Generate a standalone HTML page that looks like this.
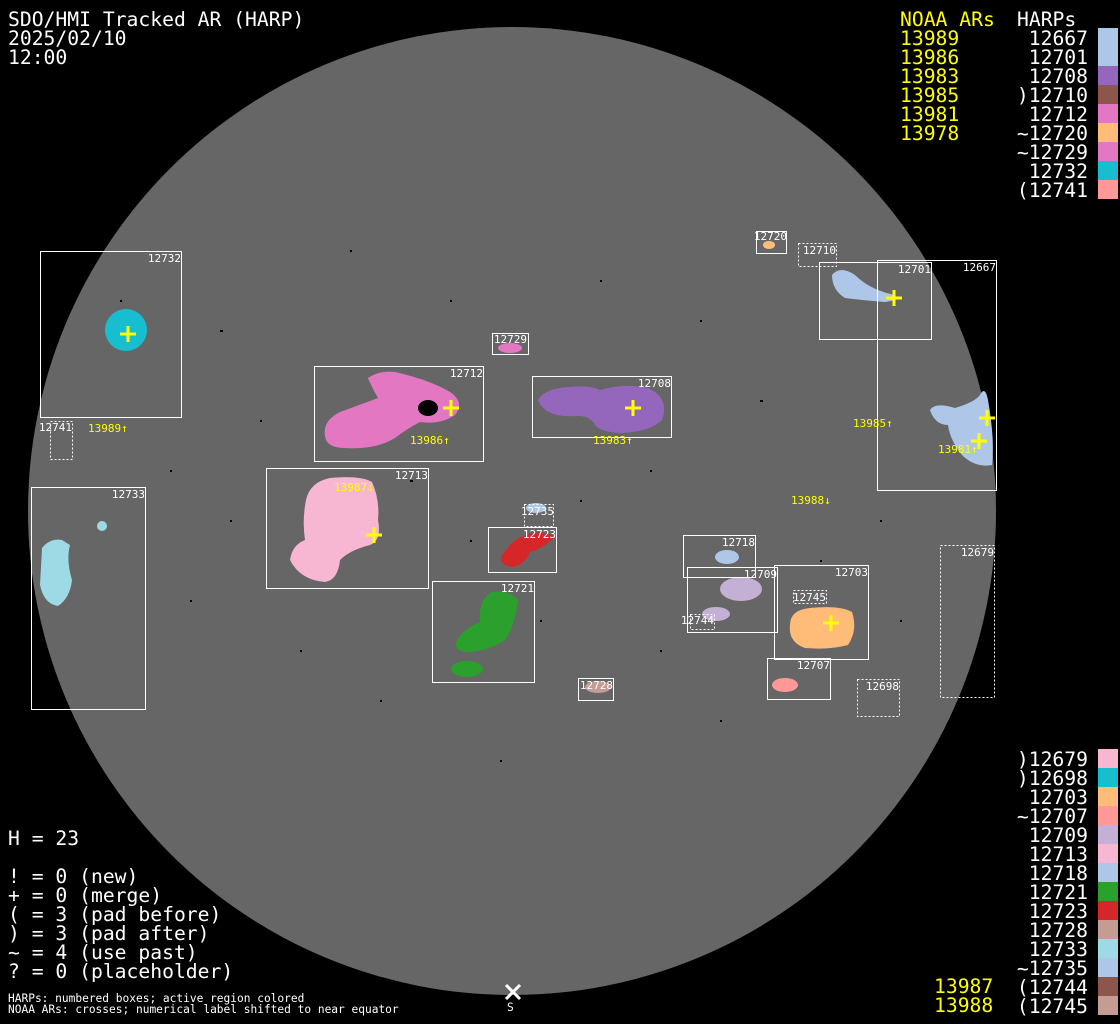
<!DOCTYPE html>
<html><head><meta charset="utf-8"><style>
html,body{margin:0;padding:0;background:#000;}
svg{display:block;}
text{font-family:"DejaVu Sans Mono","Liberation Mono",monospace;}
</style></head><body>
<svg width="1120" height="1024" viewBox="0 0 1120 1024" xmlns="http://www.w3.org/2000/svg">
<rect width="1120" height="1024" fill="#000"/>
<circle cx="512" cy="511" r="484" fill="#666"/>
<g fill="#000">
<rect x="120" y="300" width="2" height="2"/><rect x="220" y="330" width="3" height="2"/><rect x="260" y="420" width="2" height="2"/>
<rect x="350" y="250" width="2" height="2"/><rect x="450" y="300" width="2" height="2"/><rect x="600" y="280" width="2" height="2"/>
<rect x="700" y="320" width="2" height="2"/><rect x="760" y="400" width="3" height="2"/><rect x="650" y="470" width="2" height="2"/>
<rect x="580" y="500" width="2" height="2"/><rect x="230" y="520" width="2" height="2"/><rect x="190" y="600" width="2" height="2"/>
<rect x="300" y="650" width="2" height="2"/><rect x="380" y="700" width="2" height="2"/><rect x="660" y="650" width="2" height="2"/>
<rect x="720" y="720" width="2" height="2"/><rect x="500" y="760" width="2" height="2"/><rect x="820" y="560" width="2" height="2"/>
<rect x="900" y="620" width="2" height="2"/><rect x="880" y="520" width="2" height="2"/><rect x="170" y="470" width="2" height="2"/>
<rect x="410" y="480" width="3" height="2"/><rect x="470" y="540" width="2" height="2"/><rect x="540" y="620" width="2" height="2"/>
</g>
<ellipse cx="126" cy="330" rx="21" ry="21" fill="#17becf"/>
<ellipse cx="102" cy="526" rx="5" ry="5" fill="#9edae5"/>
<path d="M42,548 Q50,538 62,540 L70,545 Q66,560 72,580 Q70,598 58,606 Q44,604 40,585 Z" fill="#9edae5"/>
<path d="M326,440 Q320,422 340,412 Q362,404 378,398 Q372,388 368,378 Q380,370 395,372 Q430,380 450,392 Q465,402 455,415 Q440,425 420,422 Q405,430 395,438 Q375,450 345,448 Q330,448 326,440Z" fill="#e377c2"/>
<ellipse cx="428" cy="408" rx="10" ry="8" fill="#000"/>
<ellipse cx="510" cy="348" rx="12" ry="5" fill="#e377c2"/>
<path d="M538,400 Q545,388 570,387 Q590,385 600,390 Q625,383 648,388 Q670,398 662,420 Q650,432 620,433 Q600,432 595,425 Q590,415 575,416 Q545,418 538,400Z" fill="#9467bd"/>
<path d="M306,500 Q310,482 330,478 Q360,475 372,482 Q380,500 378,520 Q382,540 370,545 Q350,550 340,560 Q338,580 325,582 Q300,580 290,560 Q292,545 305,540 Q302,520 306,500Z" fill="#f7b6d2"/>
<ellipse cx="536" cy="508" rx="10" ry="5" fill="#aec7e8"/>
<path d="M510,545 Q518,535 540,532 L555,536 Q545,548 530,552 Q525,565 512,567 Q498,565 502,555 Z" fill="#d62728"/>
<path d="M457,640 Q465,628 480,622 Q478,600 492,592 Q510,590 518,600 Q515,625 505,640 Q490,650 470,652 Q452,652 457,640Z" fill="#2ca02c"/>
<ellipse cx="467" cy="669" rx="16" ry="8" fill="#2ca02c"/>
<ellipse cx="598" cy="687" rx="13" ry="6" fill="#c49c94"/>
<ellipse cx="727" cy="557" rx="12" ry="7" fill="#aec7e8"/>
<ellipse cx="741" cy="589" rx="21" ry="12" fill="#c5b0d5"/>
<ellipse cx="716" cy="614" rx="14" ry="7" fill="#c5b0d5"/>
<path d="M790,625 Q790,610 810,608 Q840,605 852,612 Q858,630 848,645 Q830,650 805,648 Q788,642 790,625Z" fill="#ffbb78"/>
<ellipse cx="785" cy="685" rx="13" ry="7" fill="#ff9896"/>
<ellipse cx="769" cy="245" rx="6" ry="4" fill="#ffbb78"/>
<path d="M832,275 Q840,265 855,275 Q870,290 895,295 Q900,300 885,302 Q860,300 845,298 Q832,290 832,275Z" fill="#aec7e8"/>
<path d="M930,410 Q935,402 955,408 Q975,402 980,395 Q985,385 988,400 Q995,440 992,465 Q975,468 962,455 Q950,440 948,425 Q935,425 930,410Z" fill="#aec7e8"/>
<g fill="none" stroke="#fff" stroke-width="1">
<rect x="40.5" y="251.5" width="141" height="166"/>
<rect x="31.5" y="487.5" width="114" height="222"/>
<rect x="314.5" y="366.5" width="169" height="95"/>
<rect x="492.5" y="333.5" width="36" height="21"/>
<rect x="532.5" y="376.5" width="139" height="61"/>
<rect x="266.5" y="468.5" width="162" height="120"/>
<rect x="488.5" y="527.5" width="68" height="45"/>
<rect x="432.5" y="581.5" width="102" height="101"/>
<rect x="578.5" y="678.5" width="35" height="22"/>
<rect x="683.5" y="535.5" width="72" height="42"/>
<rect x="687.5" y="567.5" width="90" height="65"/>
<rect x="774.5" y="565.5" width="94" height="94"/>
<rect x="767.5" y="658.5" width="63" height="41"/>
<rect x="756.5" y="231.5" width="30" height="22"/>
<rect x="819.5" y="262.5" width="112" height="77"/>
<rect x="877.5" y="260.5" width="119" height="230"/>
</g>
<g fill="none" stroke="#fff" stroke-width="1" stroke-dasharray="2,2">
<rect x="50.5" y="421.5" width="22" height="38"/>
<rect x="524.5" y="504.5" width="29" height="22"/>
<rect x="690.5" y="614.5" width="24" height="15"/>
<rect x="793.5" y="590.5" width="33" height="13"/>
<rect x="857.5" y="679.5" width="42" height="37"/>
<rect x="940.5" y="545.5" width="54" height="152"/>
<rect x="798.5" y="243.5" width="38" height="23"/>
</g>
<g fill="#fff" font-size="11" text-anchor="end">
<text x="181" y="262">12732</text><text x="72" y="431">12741</text><text x="145" y="498">12733</text>
<text x="483" y="377">12712</text><text x="527" y="343">12729</text><text x="671" y="387">12708</text>
<text x="428" y="479">12713</text><text x="554" y="515">12735</text><text x="556" y="538">12723</text>
<text x="534" y="592">12721</text><text x="613" y="689">12728</text><text x="755" y="546">12718</text>
<text x="777" y="578">12709</text><text x="714" y="624">12744</text><text x="868" y="576">12703</text>
<text x="826" y="601">12745</text><text x="830" y="669">12707</text><text x="899" y="690">12698</text>
<text x="994" y="556">12679</text><text x="787" y="240">12720</text><text x="836" y="254">12710</text>
<text x="931" y="273">12701</text><text x="996" y="271">12667</text>
</g>
<g fill="#ff0" font-size="11">
<text x="88" y="432">13989↑</text><text x="410" y="444">13986↑</text><text x="593" y="444">13983↑</text>
<text x="334" y="491">13987↓</text><text x="853" y="427">13985↑</text><text x="938" y="453">13981↑</text>
<text x="791" y="504">13988↓</text>
</g>
<g stroke="#ff0" stroke-width="3">
<path d="M128,326v16M120,334h16"/><path d="M451,400v16M443,408h16"/><path d="M633,400v16M625,408h16"/>
<path d="M374,527v16M366,535h16"/><path d="M894,290v16M886,298h16"/><path d="M987,410v16M979,418h16"/>
<path d="M979,433v16M971,441h16"/><path d="M831,615v16M823,623h16"/>
</g>
<g fill="#fff" font-size="19.7">
<text x="8" y="26">SDO/HMI Tracked AR (HARP)</text>
<text x="8" y="45">2025/02/10</text>
<text x="8" y="64">12:00</text>
<text x="8" y="845">H = 23</text>
<text x="8" y="883">! = 0 (new)</text>
<text x="8" y="902">+ = 0 (merge)</text>
<text x="8" y="921">( = 3 (pad before)</text>
<text x="8" y="940">) = 3 (pad after)</text>
<text x="8" y="959">~ = 4 (use past)</text>
<text x="8" y="978">? = 0 (placeholder)</text>
<text x="1017" y="26">HARPs</text>
</g>
<g fill="#fff" font-size="11.2">
<text x="8" y="1002">HARPs: numbered boxes; active region colored</text>
<text x="8" y="1013">NOAA ARs: crosses; numerical label shifted to near equator</text>
<text x="507" y="1011">S</text>
</g>
<path d="M506,985l14,14M520,985l-14,14" stroke="#fff" stroke-width="3"/>
<g fill="#ff0" font-size="19.7">
<text x="900" y="26">NOAA ARs</text>
<text x="900" y="45">13989</text><text x="900" y="64">13986</text><text x="900" y="83">13983</text>
<text x="900" y="102">13985</text><text x="900" y="121">13981</text><text x="900" y="140">13978</text>
<text x="934" y="993">13987</text><text x="934" y="1012">13988</text>
</g>
<g fill="#fff" font-size="19.7" text-anchor="end">
<text x="1088" y="45">12667</text><text x="1088" y="64">12701</text><text x="1088" y="83">12708</text>
<text x="1088" y="102">)12710</text><text x="1088" y="121">12712</text><text x="1088" y="140">~12720</text>
<text x="1088" y="159">~12729</text><text x="1088" y="178">12732</text><text x="1088" y="197">(12741</text>
<text x="1088" y="766">)12679</text><text x="1088" y="785">)12698</text><text x="1088" y="804">12703</text>
<text x="1088" y="823">~12707</text><text x="1088" y="842">12709</text><text x="1088" y="861">12713</text>
<text x="1088" y="880">12718</text><text x="1088" y="899">12721</text><text x="1088" y="918">12723</text>
<text x="1088" y="937">12728</text><text x="1088" y="956">12733</text><text x="1088" y="975">~12735</text>
<text x="1088" y="994">(12744</text><text x="1088" y="1013">(12745</text>
</g>
<g>
<rect x="1098" y="28" width="20" height="38" fill="#aec7e8"/>
<rect x="1098" y="66" width="20" height="19" fill="#9467bd"/>
<rect x="1098" y="85" width="20" height="19" fill="#8c564b"/>
<rect x="1098" y="104" width="20" height="19" fill="#e377c2"/>
<rect x="1098" y="123" width="20" height="19" fill="#ffbb78"/>
<rect x="1098" y="142" width="20" height="19" fill="#e377c2"/>
<rect x="1098" y="161" width="20" height="19" fill="#17becf"/>
<rect x="1098" y="180" width="20" height="19" fill="#ff9896"/>
<rect x="1098" y="749" width="20" height="19" fill="#f7b6d2"/>
<rect x="1098" y="768" width="20" height="19" fill="#17becf"/>
<rect x="1098" y="787" width="20" height="19" fill="#ffbb78"/>
<rect x="1098" y="806" width="20" height="19" fill="#ff9896"/>
<rect x="1098" y="825" width="20" height="19" fill="#c5b0d5"/>
<rect x="1098" y="844" width="20" height="19" fill="#f7b6d2"/>
<rect x="1098" y="863" width="20" height="19" fill="#aec7e8"/>
<rect x="1098" y="882" width="20" height="19" fill="#2ca02c"/>
<rect x="1098" y="901" width="20" height="19" fill="#d62728"/>
<rect x="1098" y="920" width="20" height="19" fill="#c49c94"/>
<rect x="1098" y="939" width="20" height="19" fill="#9edae5"/>
<rect x="1098" y="958" width="20" height="19" fill="#aec7e8"/>
<rect x="1098" y="977" width="20" height="19" fill="#8c564b"/>
<rect x="1098" y="996" width="20" height="19" fill="#c49c94"/>
</g>
</svg>
</body></html>
